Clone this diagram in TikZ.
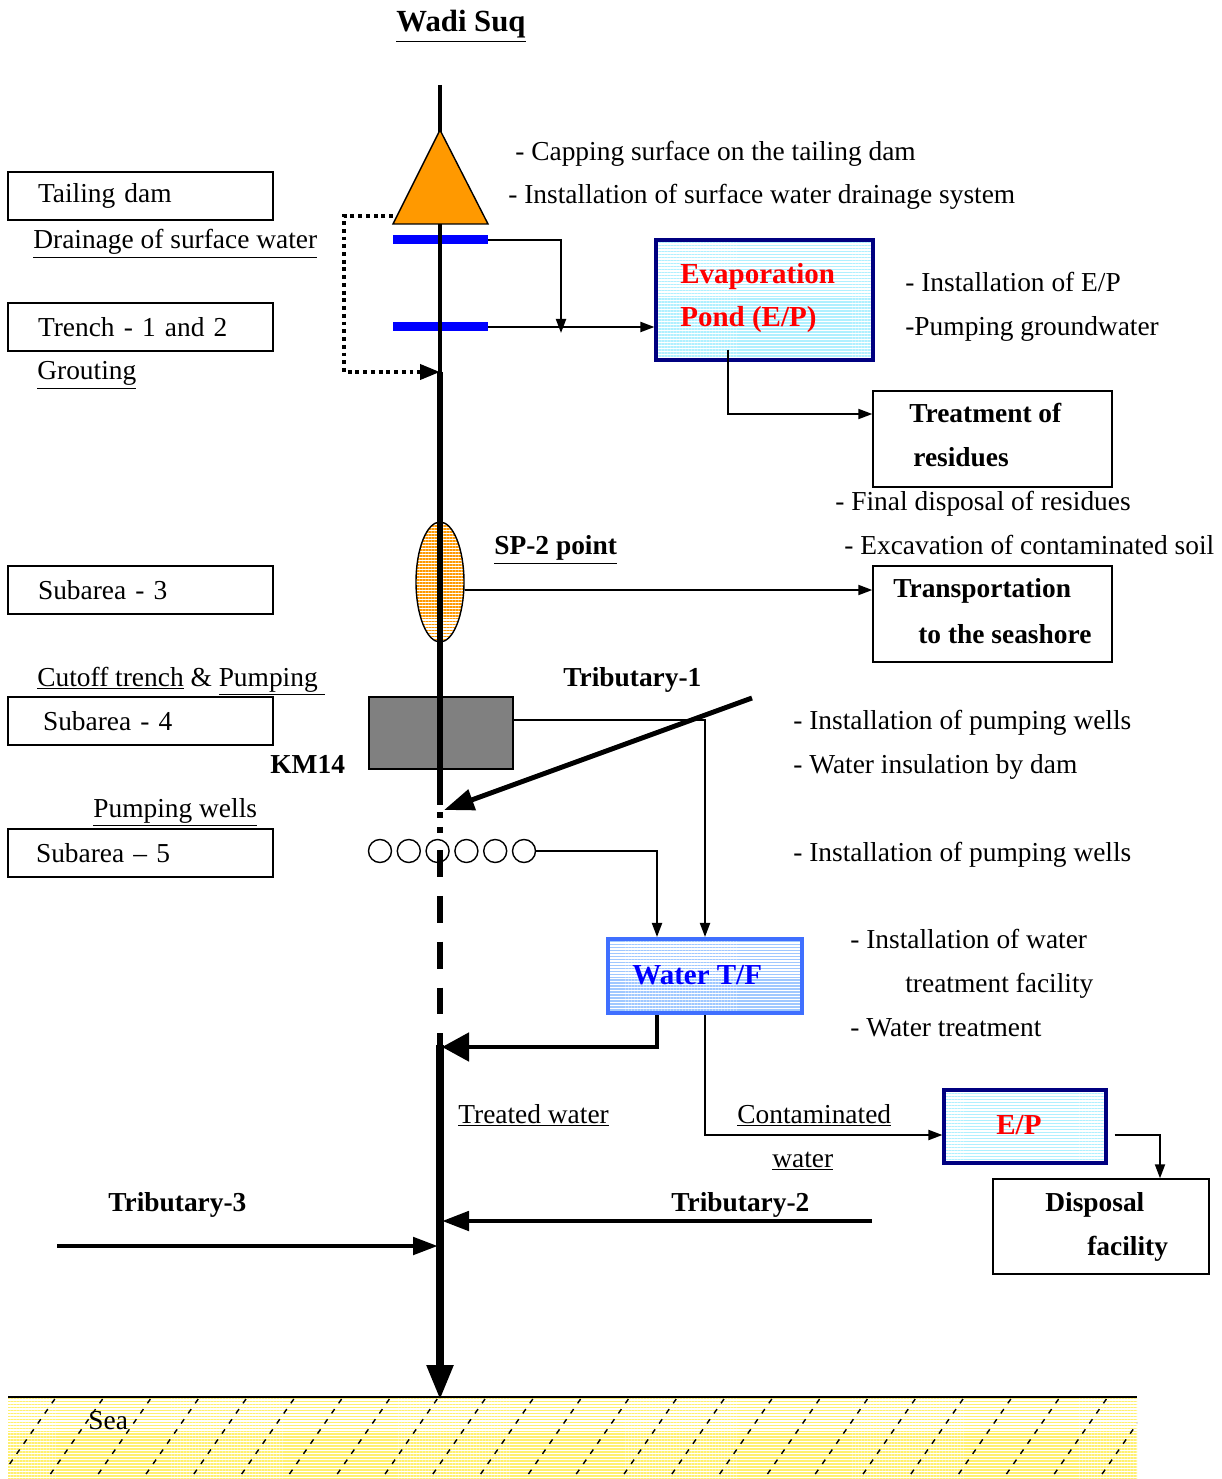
\documentclass[tikz,border=0pt]{standalone}
\usepackage{fontspec}
\setmainfont{Liberation Serif}
\usepackage{tikz}
\usetikzlibrary{shapes.geometric,arrows.meta,calc,patterns.meta,positioning}

\newcommand{\fs}{\fontsize{15.6pt}{19pt}\selectfont}
\definecolor{damorange}{HTML}{FF9900}
\definecolor{pondnavy}{HTML}{000080}
\definecolor{tfblue}{HTML}{3F6FFF}
\definecolor{pondline}{HTML}{B0F0FF}
\definecolor{tfline}{HTML}{A0C8FF}
\definecolor{sealine}{HTML}{FFF070}
\definecolor{spline}{HTML}{FF9900}

\begin{document}
\begin{tikzpicture}[x=0.02cm, y=-0.02cm, >={Triangle[length=0.28cm,width=0.2cm]},
    every node/.style={font=\fs},
    txt/.style={anchor=base west, inner sep=0pt, yshift=-0.18cm},
    bold/.style={font=\fs\bfseries},
    lbox/.style={draw, line width=0.8pt, text width=4.1cm, inner xsep=0.6cm, inner ysep=0pt, minimum height=0.96cm, align=left},
    rbox/.style={draw, line width=0.8pt, inner sep=0pt},
    lined/.style={preaction={fill=white}, pattern={Lines[angle=0,distance=1.7pt,line width=0.8pt]}},
    bar/.style={fill=blue, minimum width=1.9cm, minimum height=0.18cm, inner sep=0pt},
    flow/.style={->, line width=1.1pt},
    river/.style={line width=2.8pt},
  ]
  \useasboundingbox (0,0) rectangle (1221,1479);

  % sea
  \path[pattern={Lines[angle=0,distance=1.7pt,line width=0.8pt]}, pattern color=sealine] (8,1397) rectangle (1137,1479);
  \begin{scope}
    \clip (8,1397) rectangle (1137,1479);
    \foreach \i in {0,...,25}
      \draw[line width=0.8pt, dash pattern=on 3pt off 4pt] ({7+47.8*\i},1399) -- ++(-57,82);
  \end{scope}
  \draw[line width=1pt] (8,1397) -- (1137,1397);
  \node[txt] (Sea) at (88,1420) {Sea};

  % things on the wadi
  \node[draw, fill=gray, line width=0.8pt, minimum width=2.88cm, minimum height=1.44cm] (KM) at (441,733) {};
  \node[ellipse, draw, line width=0.8pt, minimum width=0.96cm, minimum height=2.4cm, inner sep=0pt, lined, pattern color=spline] (SP) at (440,582) {};
  \foreach \i in {1,...,6}
    \node[circle, draw, line width=0.8pt, minimum size=0.46cm, inner sep=0pt] (W\i) at ({380+28.8*(\i-1)},851) {};
  \node[bar] (Bar1) at (440.5,240) {};
  \node[bar] (Bar2) at (440.5,327) {};

  % main wadi
  \coordinate (src) at (440,85);
  \coordinate (grout) at (440,372);
  \coordinate (km) at (440,805);
  \coordinate (gap1) at (440,812);
  \coordinate (gap2) at (440,836);
  \coordinate (wells) at (440,850);
  \coordinate (tw) at (440,1045);
  \coordinate (sea) at (440,1400);
  \path[draw, line width=2.3pt] (src) -- (grout);
  \path[draw, line width=3.6pt] (grout) -- (km);
  \path[draw, line width=3.6pt, dash pattern=on 3.4pt off 5pt] (gap1) -- (gap2);
  \path[draw, line width=3.6pt, dash pattern=on 15.3pt off 10.8pt] (wells) -- (tw);
  \path[draw, line width=4.6pt, -{Triangle[length=0.7cm,width=0.5cm]}] (tw) -- (sea);

  % tailing dam
  \coordinate (apex) at (440,130);
  \coordinate (damL) at (393,224);
  \coordinate (damR) at (488,224);
  \path[draw, fill=damorange, line width=0.8pt] (apex) -- (damL) -- (damR) -- cycle;

  \node[anchor=base, inner sep=0pt, yshift=-0.2cm, font=\fontsize{17.5pt}{20pt}\selectfont\bfseries] (Title) at (461,22) {\underline{Wadi Suq}};

  % left boxes
  \node[lbox] (Tail) at (140.5,196) {Tailing dam};
  \node[lbox] (Trench) at (140.5,327) {Trench - 1 and 2};
  \node[lbox] (Sub3) at (140.5,590) {Subarea - 3};
  \node[lbox] (Sub4) at (140.5,721) {\hspace*{0.1cm}Subarea - 4};
  \node[lbox] (Sub5) at (140.5,853) {\hspace*{-0.04cm}Subarea -- 5};
  \node[txt] (Drain) at (33,240) {\underline{Drainage of surface water}};
  \node[txt] (Grt) at (37,371) {\underline{Grouting}};
  \node[txt] (Cutoff) at (37,677) {\underline{Cutoff trench} \& \underline{Pumping\ }};
  \node[txt] (PW) at (93,808) {\underline{Pumping wells}};
  \node[txt, bold] (KMlab) at (270,764) {KM14};

  % right side boxes
  \node[rbox, lined, draw=pondnavy, line width=1.8pt, pattern color=pondline, minimum width=4.34cm, minimum height=2.4cm] (Pond) at (764.5,300) {};
  \node[txt, font=\fontsize{16.5pt}{20pt}\selectfont\bfseries, text=red] (PondA) at (680,275) {Evaporation};
  \node[txt, font=\fontsize{16.5pt}{20pt}\selectfont\bfseries, text=red] (PondB) at (680,318) {Pond (E/P)};
  \node[rbox, minimum width=4.78cm, minimum height=1.92cm] (Treat) at (992.5,439) {};
  \node[txt, bold] (TreatA) at (909,414) {Treatment of};
  \node[txt, bold] (TreatB) at (913,458) {residues};
  \node[rbox, minimum width=4.78cm, minimum height=1.92cm] (Trans) at (992.5,614) {};
  \node[txt, bold] (TransA) at (893,589) {Transportation};
  \node[txt, bold] (TransB) at (918,634) {to the seashore};
  \node[rbox, lined, draw=tfblue, line width=2.3pt, pattern color=tfline, minimum width=3.88cm, minimum height=1.48cm] (WTF) at (705,976) {};
  \node[txt, font=\fontsize{16.5pt}{20pt}\selectfont\bfseries, text=blue] (WTFlab) at (632,975) {Water T/F};
  \node[rbox, lined, draw=pondnavy, line width=1.8pt, pattern color=pondline, minimum width=3.24cm, minimum height=1.46cm] (EP) at (1025,1126.5) {};
  \node[txt, font=\fontsize{16.5pt}{20pt}\selectfont\bfseries, text=red] (EPlab) at (996,1125) {E/P};
  \node[rbox, minimum width=4.32cm, minimum height=1.9cm] (Disp) at (1101,1226.5) {};
  \node[txt, bold] (DispA) at (1045,1202) {Disposal};
  \node[txt, bold] (DispB) at (1087,1246) {facility};

  % notes
  \node[txt] (N1) at (515,152) {- Capping surface on the tailing dam};
  \node[txt] (N2) at (508,195) {- Installation of surface water drainage system};
  \node[txt] (N3) at (905,283) {- Installation of E/P};
  \node[txt] (N4) at (905,327) {-Pumping groundwater};
  \node[txt] (N5) at (835,502) {- Final disposal of residues};
  \node[txt] (N6) at (844,546) {- Excavation of contaminated soil};
  \node[txt, bold] (SPlab) at (494,546) {\underline{SP-2 point}};
  \node[txt, bold] (T1) at (563,677) {Tributary-1};
  \node[txt] (N7) at (793,720) {- Installation of pumping wells};
  \node[txt] (N8) at (793,764) {- Water insulation by dam};
  \node[txt] (N9) at (793,852) {- Installation of pumping wells};
  \node[txt] (N10) at (850,939) {- Installation of water};
  \node[txt] (N11) at (905,983) {treatment facility};
  \node[txt] (N12) at (850,1027) {- Water treatment};
  \node[txt] (TWlab) at (458,1114) {\underline{Treated water}};
  \node[txt] (CWa) at (737,1114) {\underline{Contaminated}};
  \node[txt] (CWb) at (772,1158) {\underline{water}};
  \node[txt, bold] (T3) at (108,1202) {Tributary-3};
  \node[txt, bold] (T2) at (671,1202) {Tributary-2};

  % connectors
  \coordinate (drop) at (561,333);
  \path[draw, flow] (Bar1.east) -| (drop);
  \path[draw, flow] (Bar2.east) -- (Pond.west |- Bar2.east);
  \path[draw, flow] ([xshift=-0.73cm,yshift=0.24cm]Pond.south) |- ([yshift=0.5cm]Treat.west);
  \path[draw, flow] ([yshift=-0.16cm]SP.east) -- ([yshift=0.48cm]Trans.west);
  \path[draw, line width=2.2pt, dash pattern=on 2.2pt off 2.2pt, -{Triangle[length=0.4cm,width=0.3cm]}] ([yshift=0.16cm]damL) -- ++(-49,0) |- (grout);
  \path[draw, flow] ([yshift=0.26cm]KM.east) -| (WTF.north);
  \path[draw, flow] (W6.east) -| ([xshift=-0.96cm]WTF.north);
  \coordinate (twin) at (442,1047);
  \path[draw, river, -{Triangle[length=0.54cm,width=0.56cm]}] ([xshift=-0.96cm]WTF.south) |- (twin);
  \path[draw, flow] (WTF.south) |- ([yshift=-0.17cm]EP.west);
  \path[draw, flow] ([xshift=0.14cm,yshift=-0.17cm]EP.east) -| ([xshift=1.18cm]Disp.north);

  % tributaries
  \coordinate (t1s) at (752,698);
  \coordinate (t1e) at (444,810);
  \coordinate (t2s) at (872,1221);
  \coordinate (t2e) at (442,1221);
  \coordinate (t3s) at (57,1246);
  \coordinate (t3e) at (438,1246);
  \path[draw, river, -{Triangle[length=0.6cm,width=0.42cm]}] (t1s) -- (t1e);
  \path[draw, river, -{Triangle[length=0.54cm,width=0.38cm]}] (t2s) -- (t2e);
  \path[draw, river, -{Triangle[length=0.5cm,width=0.34cm]}] (t3s) -- (t3e);
\end{tikzpicture}
\end{document}
